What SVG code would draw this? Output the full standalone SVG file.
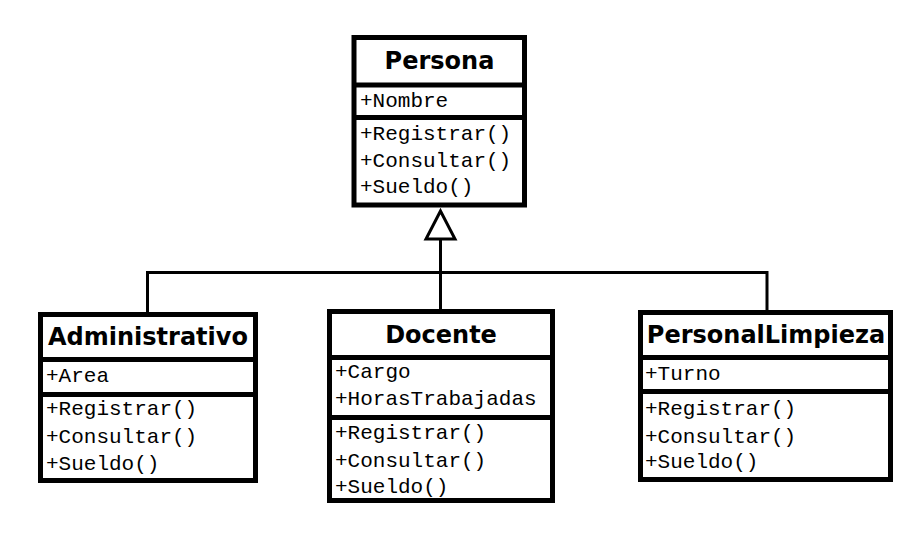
<svg xmlns="http://www.w3.org/2000/svg" width="922" height="547" viewBox="0 0 922 547">
<style>
.box{fill:#fff;stroke:#000;stroke-width:5}
.sep{stroke:#000;stroke-width:5}
.title{font-family:"DejaVu Sans",Verdana,sans-serif;font-weight:bold;font-size:24px;text-anchor:middle;fill:#000}
.mem{font-family:"Courier New","Nimbus Mono PS","FreeMono","Liberation Mono",monospace;font-size:21px;fill:#000}
.conn{stroke:#000;stroke-width:3;fill:none}
</style>
<rect width="922" height="547" fill="#fff"/>
<g id="connectors">
<polyline class="conn" points="147.5,312 147.5,272.5 767,272.5 767,310"/>
<line class="conn" x1="440.5" y1="239" x2="440.5" y2="309"/>
<polygon points="440.5,211 426,239 455,239" fill="#fff" stroke="#000" stroke-width="3"/>
</g>
<g id="Persona">
<rect class="box" x="354" y="37.5" width="170.5" height="167.5"/>
<line class="sep" x1="354" y1="85" x2="524.5" y2="85"/>
<line class="sep" x1="354" y1="117.5" x2="524.5" y2="117.5"/>
<text class="title" x="439.5" y="69">Persona</text>
<text class="mem" x="360" y="107">+Nombre</text>
<text class="mem" x="360" y="140">+Registrar()</text>
<text class="mem" x="360" y="167">+Consultar()</text>
<text class="mem" x="360" y="193">+Sueldo()</text>
</g>
<g id="Administrativo">
<rect class="box" x="40.5" y="314.5" width="215" height="166"/>
<line class="sep" x1="40.5" y1="359.5" x2="255.5" y2="359.5"/>
<line class="sep" x1="40.5" y1="394.5" x2="255.5" y2="394.5"/>
<text class="title" x="148" y="345">Administrativo</text>
<text class="mem" x="46" y="382">+Area</text>
<text class="mem" x="46" y="415">+Registrar()</text>
<text class="mem" x="46" y="443">+Consultar()</text>
<text class="mem" x="46" y="470">+Sueldo()</text>
</g>
<g id="Docente">
<rect class="box" x="329.5" y="311.5" width="223" height="189"/>
<line class="sep" x1="329.5" y1="357.5" x2="552.5" y2="357.5"/>
<line class="sep" x1="329.5" y1="417.5" x2="552.5" y2="417.5"/>
<text class="title" x="441" y="343">Docente</text>
<text class="mem" x="335" y="378">+Cargo</text>
<text class="mem" x="335" y="405">+HorasTrabajadas</text>
<text class="mem" x="335" y="439">+Registrar()</text>
<text class="mem" x="335" y="467">+Consultar()</text>
<text class="mem" x="335" y="493">+Sueldo()</text>
</g>
<g id="PersonalLimpieza">
<rect class="box" x="640.5" y="312.5" width="250" height="167"/>
<line class="sep" x1="640.5" y1="357.5" x2="890.5" y2="357.5"/>
<line class="sep" x1="640.5" y1="391.5" x2="890.5" y2="391.5"/>
<text class="title" x="766" y="343">PersonalLimpieza</text>
<text class="mem" x="645" y="380">+Turno</text>
<text class="mem" x="645" y="415">+Registrar()</text>
<text class="mem" x="645" y="443">+Consultar()</text>
<text class="mem" x="645" y="468">+Sueldo()</text>
</g>
</svg>
